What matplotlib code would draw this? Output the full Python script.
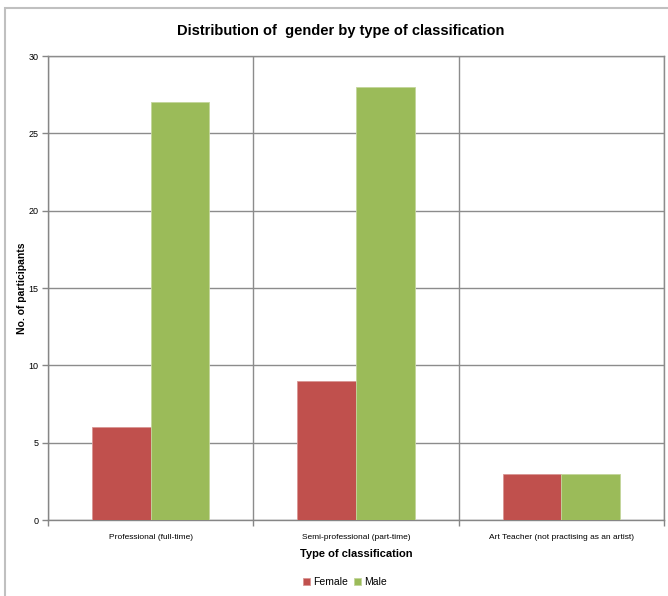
import numpy as np
import matplotlib
matplotlib.use('Agg')
import matplotlib.pyplot as plt
from matplotlib.patches import Rectangle

# Data
categories = ['Professional (full-time)', 'Semi-professional (part-time)',
              'Art Teacher (not practising as an artist)']
female = [6, 9, 3]
male = [27, 28, 3]

plt.rcParams['font.family'] = ['Liberation Sans', 'DejaVu Sans']

fig = plt.figure(figsize=(6.68, 5.96), dpi=100)
ax = fig.add_axes([48 / 668, 1 - 520 / 596, 616 / 668, 464 / 596])

# Excel style bars: gap width 150% -> bar width = 1 / 3.5
w = 1 / 3.5
x = np.arange(len(categories))
ax.bar(x - w / 2, female, w, color='#C0504D', edgecolor='#D99694', linewidth=0.6,
       label='Female', zorder=3)
ax.bar(x + w / 2, male, w, color='#9BBB59', edgecolor='#C3D69B', linewidth=0.6,
       label='Male', zorder=3)

ax.set_xlim(-0.5, len(categories) - 0.5)
ax.set_ylim(0, 30)
ax.set_yticks(range(0, 31, 5))

# category boundaries as major ticks / vertical gridlines
ax.set_xticks(np.arange(-0.5, len(categories), 1))
ax.set_xticklabels([])
ax.set_xticks(x, minor=True)
ax.set_xticklabels(categories, minor=True, fontsize=6)
ax.tick_params(axis='x', which='minor', length=0, pad=10)
ax.tick_params(axis='x', which='major', length=4, color='#868686', width=1)
ax.tick_params(axis='y', length=4, color='#868686', width=1, labelsize=6.5, pad=3)

ax.grid(True, which='major', color='#8c8c8c', linewidth=1, zorder=0)
for side in ['top', 'right']:
    ax.spines[side].set_color('#8c8c8c')
for side in ['left', 'bottom']:
    ax.spines[side].set_color('#868686')
for s in ax.spines.values():
    s.set_linewidth(1)

ax.set_ylabel('No. of participants', fontsize=7.5, fontweight='bold')
ax.yaxis.set_label_coords(-21 / 616, 0.5)
ax.set_xlabel('Type of classification', fontsize=8, fontweight='bold')
ax.xaxis.set_label_coords(0.5, -29 / 464)

fig.text(341 / 668, 1 - 31 / 596, 'Distribution of  gender by type of classification',
         ha='center', va='center', fontsize=10.5, fontweight='bold')

fig.legend(loc='center', bbox_to_anchor=(345 / 668, 1 - 582 / 596), ncol=2,
           frameon=False, fontsize=7.5, handlelength=0.7, handleheight=0.7,
           handletextpad=0.3, columnspacing=0.6)

# outer chart border
fig.patches.append(Rectangle((5 / 668, -0.05), 1.1, 1.05 - 8 / 596,
                             transform=fig.transFigure, fill=False,
                             edgecolor='#c0c0c0', linewidth=1.5))

fig.savefig('out.png', dpi=100)
